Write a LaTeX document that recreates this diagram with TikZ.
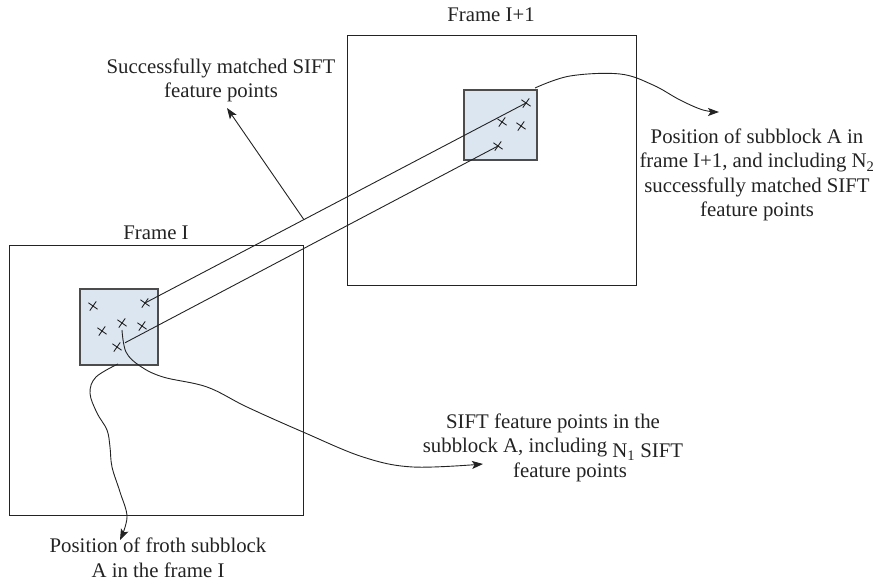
\documentclass[tikz,border=0pt]{standalone}
\usepackage{fontspec}
\setmainfont{Liberation Serif}
\usetikzlibrary{arrows.meta,shapes.misc,calc}
\definecolor{subfill}{RGB}{220,230,241}
\definecolor{ink}{RGB}{35,35,35}
\begin{document}
\begin{tikzpicture}[x=1pt,y=-1pt,
  line width=0.9pt,
  txt/.style={font=\fontsize{20.8pt}{24.5pt}\selectfont, text=ink, align=center, inner sep=0pt, anchor=base},
  frm/.style={draw=ink, line width=1.1pt, inner sep=0pt, anchor=north west},
  subb/.style={draw=black!70, line width=1.6pt, fill=subfill, inner sep=0pt, anchor=north west},
  xmark/.style={cross out, draw=ink, line width=0.9pt, minimum size=7pt, inner sep=0pt, rotate=10},
  arr/.style={draw=ink, -{Stealth[length=11pt,width=8pt,inset=2.5pt]}},
  lnk/.style={draw=ink}]
\useasboundingbox (0,0) rectangle (882,585);

% frames
\node[frm, minimum width=294pt, minimum height=270pt] (F1) at (9,245) {};
\node[frm, minimum width=289pt, minimum height=250pt] (F2) at (347,35) {};

% subblocks
\node[subb, minimum width=78pt, minimum height=76pt] (S1) at (79,288) {};
\node[subb, minimum width=73pt, minimum height=70pt] (S2) at (463,89) {};

% feature points
\node[xmark] (cL1) at (93,306) {};
\node[xmark] (cL2) at (145,303) {};
\node[xmark] (cL3) at (102,331) {};
\node[xmark] (cL4) at (122,323) {};
\node[xmark] (cL5) at (142,326) {};
\node[xmark] (cL6) at (117,347) {};
\node[xmark] (cR1) at (526,103) {};
\node[xmark] (cR2) at (502,122) {};
\node[xmark] (cR3) at (521,126) {};
\node[xmark] (cR4) at (498,146) {};

% match lines
\draw[lnk] (cL2.center) -- (cR1.center);
\draw[lnk, shorten <=9pt] (cL6.center) -- (cR4.center);

% labels (anchor = baseline of last line)
\node[txt] (t1) at (491,22) {Frame I+1};
\node[txt] (t2) at (156,240) {Frame I};
\node[txt] (t3) at (221,98) {Successfully matched SIFT\\feature points};
\node[txt] (t4) at (757,217) {Position of subblock A in\\frame I+1, and including N\textsubscript{2}\\successfully matched SIFT\\feature points};
\node[txt] (t5) at (553,477) {SIFT feature points in the\\subblock A, including \raisebox{-5pt}{N\textsubscript{1} SIFT}\\\hspace*{34pt}feature points};
\node[txt] (t6) at (158,577) {Position of froth subblock\\A in the frame I};

% arrow to "Successfully matched"
\coordinate (m) at ($(cL2.center)!0.417!(cR1.center)$);
\coordinate (a2e) at (227,108);
\draw[arr] (m) -- (a2e);

% curve to right label
\coordinate (a1s) at (535,88);
\coordinate (a1e) at (719,112);
\draw[arr] plot[smooth, tension=0.6] coordinates {(a1s) (570,76) (620,74) (653,85) (680,100) (703,110) (a1e)};

% curve to lower-right label
\coordinate (a3s) at (122,330);
\coordinate (a3e) at (483,464);
\draw[arr] plot[smooth, tension=0.6] coordinates {(a3s) (126,352) (140,366) (163,377) (207,387) (247,407) (303,432) (363,457) (413,467) (a3e)};

% curve to bottom label
\coordinate (a4s) at (118,364);
\coordinate (a4e) at (120,540);
\draw[arr] plot[smooth, tension=0.6] coordinates {(a4s) (96,377) (90,393) (97,413) (107,430) (110,447) (112,467) (120,492) (127,517) (a4e)};
\end{tikzpicture}
\end{document}
